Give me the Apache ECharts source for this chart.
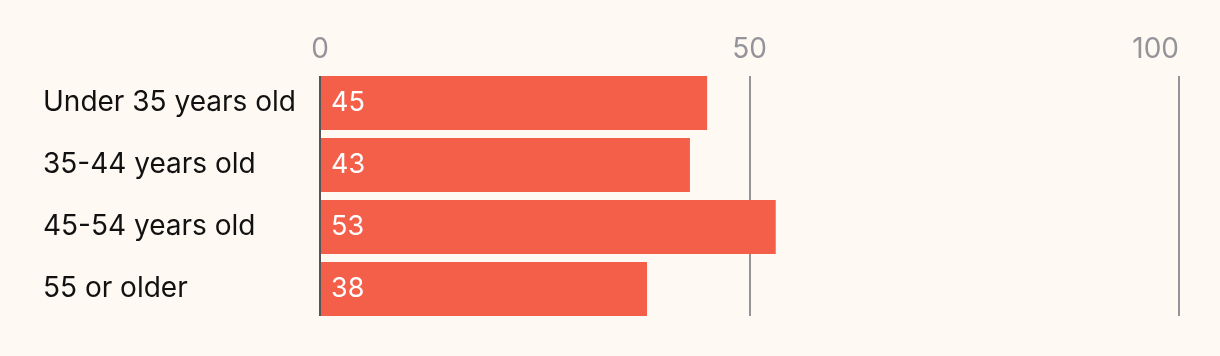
<!DOCTYPE html>
<html>
<head>
<meta charset="utf-8">
<script src="https://cdn.jsdelivr.net/npm/echarts@6/dist/echarts.min.js"></script>
<style>
html,body{margin:0;padding:0;background:#fef9f2;}
#c{width:1220px;height:356px;}
</style>
</head>
<body>
<div id="c"></div>
<script>
const categories = ['Under 35 years old', '35-44 years old', '45-54 years old', '55 or older'];
const values = [45, 43, 53, 38];
const ticks = [0, 50, 100];

const FONT = 'Inter, "Noto Sans", sans-serif';
const chart = echarts.init(document.getElementById('c'));
chart.setOption({
  backgroundColor: '#fef9f2',
  animation: false,
  grid: [
    {left: 320, right: 41, top: 76, height: 240},
    {left: 321, right: 41, top: 72, height: 248}
  ],
  xAxis: [
    {
      gridIndex: 0, type: 'value', position: 'top',
      min: ticks[0], max: ticks[ticks.length - 1], interval: 50,
      axisLine: {show: false}, axisTick: {show: false},
      axisLabel: {color: '#939399', fontSize: 28, fontFamily: FONT, margin: 12, alignMaxLabel: 'right'},
      splitLine: {show: true, lineStyle: {color: ['#555555', '#939399', '#939399'], width: 2}}
    },
    {
      gridIndex: 1, type: 'value', min: 0, max: 100,
      show: false, splitLine: {show: false}
    }
  ],
  yAxis: [
    {gridIndex: 0, type: 'category', data: categories, show: false},
    {
      gridIndex: 1, type: 'category', data: categories, inverse: true,
      axisLine: {show: false}, axisTick: {show: false},
      axisLabel: {color: '#111111', fontSize: 28, fontFamily: FONT, align: 'left', margin: 278}
    }
  ],
  series: [{
    type: 'bar', xAxisIndex: 1, yAxisIndex: 1,
    data: values,
    barCategoryGap: '12.9%',
    itemStyle: {color: '#f45f4a'},
    label: {show: true, position: 'insideLeft', distance: 10, color: '#ffffff', fontSize: 27, fontFamily: FONT}
  }]
});
</script>
</body>
</html>
